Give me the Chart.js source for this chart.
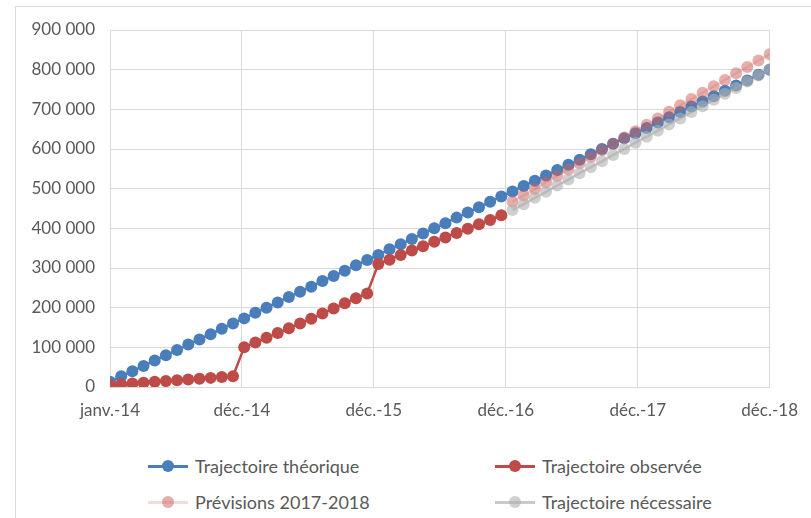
<!DOCTYPE html>
<html lang="fr">
<head>
<meta charset="utf-8">
<script src="https://cdn.jsdelivr.net/npm/chart.js@4.4.1/dist/chart.umd.min.js"></script>
<style>
  html, body { margin: 0; padding: 0; background: #fff; }
  body { width: 811px; height: 518px; position: relative; overflow: hidden; font-family: Lato, sans-serif; color: #595959; }
  .frame { position: absolute; left: 15px; top: 6px; width: 830px; height: 540px; border: 1px solid #d9d9d9; box-sizing: border-box; }
  #wrap { position: absolute; left: 0; top: 0; width: 811px; height: 430px; }
  #legend { position: absolute; left: 148px; top: 448px; display: grid; grid-template-columns: 347px auto; grid-auto-rows: 36px; font-size: 18px; }
  .item { display: flex; align-items: center; white-space: nowrap; }
  .mark { position: relative; width: 40px; height: 12px; margin-right: 7px; }
  .mark .ln { position: absolute; left: 0; right: 0; top: 4.5px; height: 3px; }
  .mark .dot { position: absolute; left: 14px; top: 0; width: 12px; height: 12px; border-radius: 50%; }
</style>
</head>
<body>
<div class="frame"></div>
<div id="wrap"><canvas id="trajectoires"></canvas></div>
<div id="legend"></div>

<script>
// monthly points, janv.-14 (index 0) to déc.-18 (index 59)
const lastMonth = 59;
const forecastStart = 36; // janv.-17
const tickLabels = ['janv.-14', 'déc.-14', 'déc.-15', 'déc.-16', 'déc.-17', 'déc.-18'];

const theorique = [
  13000, 27000, 40000, 53000, 67000, 80000, 93000, 107000, 120000, 133000, 147000, 160000,
  173000, 187000, 200000, 213000, 227000, 240000, 253000, 267000, 280000, 293000, 307000, 320000,
  333000, 347000, 360000, 373000, 387000, 400000, 413000, 427000, 440000, 453000, 467000, 480000,
  493000, 507000, 520000, 533000, 547000, 560000, 573000, 587000, 600000, 613000, 627000, 640000,
  653000, 667000, 680000, 693000, 707000, 720000, 733000, 747000, 760000, 773000, 787000, 800000
];

const observee = [
  5000, 7000, 9000, 11000, 13000, 15000, 17000, 19000, 21000, 23000, 25000, 27000,
  100000, 112000, 124000, 136000, 148000, 160000, 172000, 185000, 198000, 211000, 224000, 236000,
  310000, 321000, 333000, 344000, 355000, 366000, 377000, 388000, 399000, 410000, 421000, 433000
];

const previsions = [
  467000, 483000, 499000, 516000, 532000, 548000, 564000, 580000, 597000, 613000, 629000, 645000,
  661000, 677000, 694000, 710000, 726000, 742000, 758000, 774000, 791000, 807000, 823000, 839000
];

const necessaire = [
  446000, 461000, 477000, 492000, 508000, 523000, 539000, 554000, 569000, 585000, 600000, 616000,
  631000, 646000, 662000, 677000, 693000, 708000, 724000, 739000, 754000, 770000, 785000, 801000
];

function toPoints(values, start) {
  return values.map((v, i) => ({ x: start + i, y: v }));
}

function spaced(n) {
  return String(n).replace(/\B(?=(\d{3})+(?!\d))/g, ' ');
}

const gridColor = '#d9d9d9';
const textColor = '#595959';

function series(label, values, start, line, dot, order) {
  return {
    label: label,
    data: toPoints(values, start),
    borderColor: line,
    backgroundColor: dot,
    pointBackgroundColor: dot,
    pointBorderWidth: 0,
    pointRadius: 6,
    pointHoverRadius: 6,
    borderWidth: 2.5,
    tension: 0,
    order: order
  };
}

const ctx = document.getElementById('trajectoires').getContext('2d');
const chart = new Chart(ctx, {
  type: 'line',
  data: {
    datasets: [
      series('Trajectoire théorique', theorique, 0, '#4a7ebb', '#4a7ebb', 3),
      series('Trajectoire observée', observee, 0, '#be4b48', '#be4b48', 2),
      series('Prévisions 2017-2018', previsions, forecastStart, 'rgba(192,80,77,0.2)', 'rgba(205,95,92,0.5)', 1),
      series('Trajectoire nécessaire', necessaire, forecastStart, 'rgba(150,150,150,0.5)', 'rgba(175,175,175,0.6)', 0)
    ]
  },
  options: {
    responsive: true,
    maintainAspectRatio: false,
    animation: false,
    layout: { padding: { top: 30, right: 40, bottom: 0, left: 0 } },
    plugins: {
      legend: { display: false },
      tooltip: { enabled: false }
    },
    scales: {
      x: {
        type: 'linear',
        min: 0,
        max: lastMonth,
        grid: { color: gridColor, drawTicks: false },
        border: { color: gridColor },
        afterBuildTicks: scale => {
          scale.ticks = tickLabels.map((_, i) => ({ value: i * lastMonth / (tickLabels.length - 1) }));
        },
        afterFit: scale => { scale.height = 43; },
        ticks: {
          autoSkip: false,
          maxRotation: 0,
          padding: 13,
          color: textColor,
          font: { family: 'Lato', size: 17 },
          callback: (value, index) => tickLabels[index]
        }
      },
      y: {
        min: 0,
        max: 900000,
        grid: { color: gridColor, drawTicks: false },
        border: { color: gridColor },
        afterFit: scale => { scale.width = 110; },
        ticks: {
          stepSize: 100000,
          padding: 15,
          color: textColor,
          font: { family: 'Lato', size: 17 },
          callback: value => spaced(value)
        }
      }
    }
  }
});

// two-column legend under the plot
const legend = document.getElementById('legend');
chart.data.datasets.forEach(ds => {
  const item = document.createElement('div');
  item.className = 'item';
  const mark = document.createElement('span');
  mark.className = 'mark';
  const ln = document.createElement('span');
  ln.className = 'ln';
  ln.style.background = ds.borderColor;
  const dot = document.createElement('span');
  dot.className = 'dot';
  dot.style.background = ds.pointBackgroundColor;
  mark.appendChild(ln);
  mark.appendChild(dot);
  item.appendChild(mark);
  item.appendChild(document.createTextNode(ds.label));
  legend.appendChild(item);
});
</script>
</body>
</html>
